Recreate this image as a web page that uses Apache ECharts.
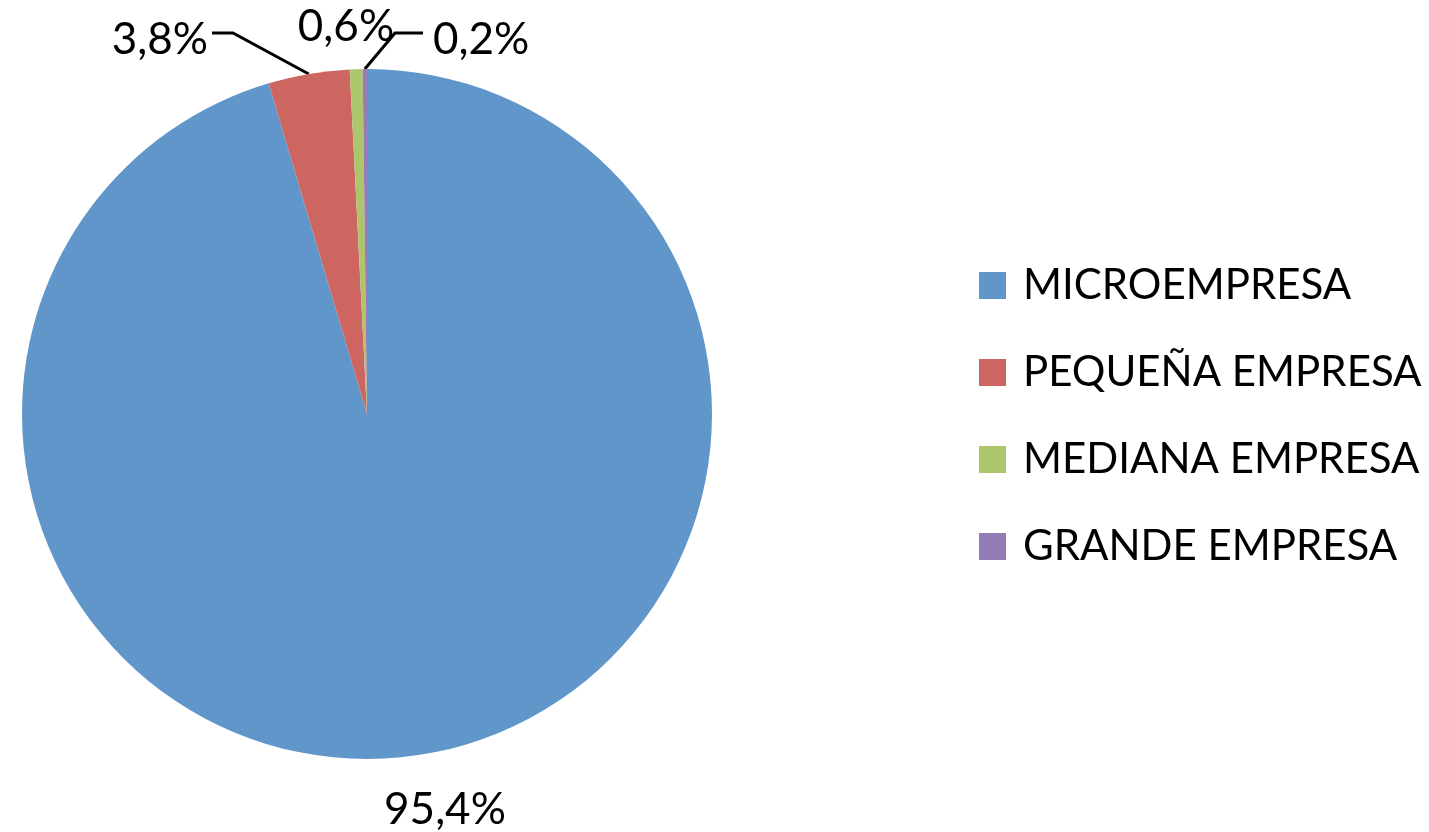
<!DOCTYPE html>
<html>
<head>
<meta charset="utf-8">
<script src="https://cdn.jsdelivr.net/npm/echarts@6/dist/echarts.min.js"></script>
<style>
  html, body { margin: 0; padding: 0; background: #fff; }
  #chart { width: 1429px; height: 832px; }
</style>
</head>
<body>
<div id="chart"></div>
<script>
var categories = ['MICROEMPRESA', 'PEQUEÑA EMPRESA', 'MEDIANA EMPRESA', 'GRANDE EMPRESA'];
var shares = [95.4, 3.8, 0.6, 0.2];
var colors = ['#6096C9', '#CD6660', '#ADC66C', '#947DB5'];

// where Excel placed each label (x, y, align), plus the elbow of its leader line
var labelSpots = [
    { x: 445, y: 810, align: 'center', line: false },
    { x: 208, y: 40, align: 'right', line: true, elbow: [233, 33], end: [212, 33] },
    { x: 346, y: 27, align: 'center', line: false },
    { x: 433, y: 40, align: 'left', line: true, elbow: [395, 33], end: [423, 33] }
];

var chart = echarts.init(document.getElementById('chart'));

var option = {
    animation: false,
    color: colors,
    legend: {
        orient: 'vertical',
        left: 979,
        top: 264,
        padding: 0,
        itemWidth: 27,
        itemHeight: 27,
        itemGap: 44,
        icon: 'rect',
        textStyle: {
            fontFamily: 'Lato',
            fontSize: 42,
            lineHeight: 43,
            color: '#000',
            padding: [0, 0, 0, 12]
        },
        data: categories
    },
    series: [{
        type: 'pie',
        center: [367, 414],
        radius: [0, 345],
        startAngle: 90,
        clockwise: true,
        itemStyle: { borderWidth: 0 },
        label: {
            show: true,
            position: 'outside',
            overflow: 'none',
            edgeDistance: 0,
            bleedMargin: 0,
            fontFamily: 'Lato',
            fontSize: 44,
            color: '#000',
            formatter: function (p) {
                return p.value.toFixed(1).replace('.', ',') + '%';
            }
        },
        labelLine: {
            show: true,
            length: 20,
            length2: 20,
            lineStyle: { color: '#000', width: 3 }
        },
        labelLayout: function (params) {
            var s = labelSpots[params.dataIndex];
            var out = {
                x: s.x,
                y: s.y,
                align: s.align,
                verticalAlign: 'middle'
            };
            if (s.line && params.labelLinePoints) {
                var p0 = params.labelLinePoints[0];
                out.labelLinePoints = [[p0[0], p0[1]], s.elbow, s.end];
            }
            return out;
        },
        data: categories.map(function (name, i) {
            return {
                name: name,
                value: shares[i],
                labelLine: { show: labelSpots[i].line }
            };
        })
    }]
};

chart.setOption(option);
</script>
</body>
</html>
